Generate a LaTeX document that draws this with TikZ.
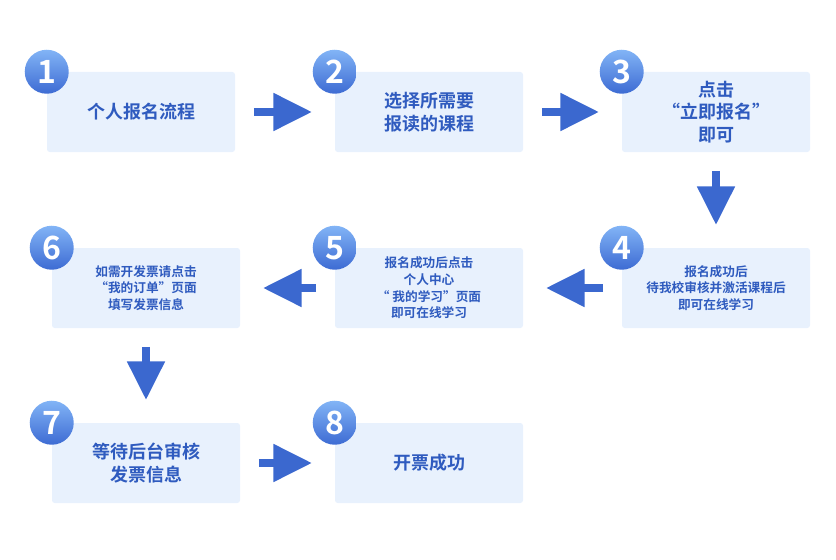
\documentclass[tikz,border=0pt]{standalone}
\usepackage{fontspec}
\setmainfont{Noto Sans CJK SC}[BoldFont={Noto Sans CJK SC Bold}]
\usetikzlibrary{arrows.meta,positioning}
\definecolor{boxfill}{HTML}{E8F1FD}
\definecolor{txtblue}{HTML}{2F5BBF}
\definecolor{arrblue}{HTML}{3B68CF}
\definecolor{balltop}{HTML}{82B4F6}
\definecolor{ballbot}{HTML}{3D6BD3}

\tikzset{
  stepbox/.style={rectangle,rounded corners=2pt,fill=boxfill,minimum width=141pt,
    minimum height=60pt,align=center,text=txtblue,font=\bfseries\fontsize{13.5}{17}\selectfont},
  smallbox/.style={stepbox,font=\bfseries\fontsize{9.5}{12.5}\selectfont},
  numball/.style={circle,minimum size=33pt,inner sep=0pt,top color=balltop,bottom color=ballbot,
    text=white,font=\bfseries\fontsize{24}{24}\selectfont},
  flow/.style={-{Triangle[width=27pt,length=29pt]},line width=6pt,draw=arrblue,
    shorten <=14pt,shorten >=17pt}
}

\begin{document}
\begin{tikzpicture}[x=0.75pt,y=-0.75pt]
  \useasboundingbox (0,0) rectangle (836,560);

  \node[stepbox]  (s1) at (141,112) {个人报名流程};
  \node[stepbox]  (s2) at (429,112) {选择所需要\\报读的课程};
  \node[stepbox]  (s3) at (716,112) {点击\\“立即报名”\\即可};
  \node[smallbox] (s4) at (716,288) {报名成功后\\待我校审核并激活课程后\\即可在线学习};
  \node[smallbox] (s5) at (429,288) {报名成功后点击\\个人中心\\“ 我的学习”页面\\即可在线学习};
  \node[smallbox] (s6) at (146,288) {如需开发票请点击\\“我的订单”页面\\填写发票信息};
  \node[stepbox]  (s7) at (146,463) {等待后台审核\\发票信息};
  \node[stepbox]  (s8) at (429,463) {开票成功};

  \foreach \i in {1,...,8}
    \node[numball] (n\i) at (s\i.north west) {\i};

  \draw[flow] (s1) -- (s2);
  \draw[flow] (s2) -- (s3);
  \draw[flow] (s3) -- (s4);
  \draw[flow] (s4) -- (s5);
  \draw[flow] (s5) -- (s6);
  \draw[flow] (s6) -- (s7);
  \draw[flow] (s7) -- (s8);
\end{tikzpicture}
\end{document}
